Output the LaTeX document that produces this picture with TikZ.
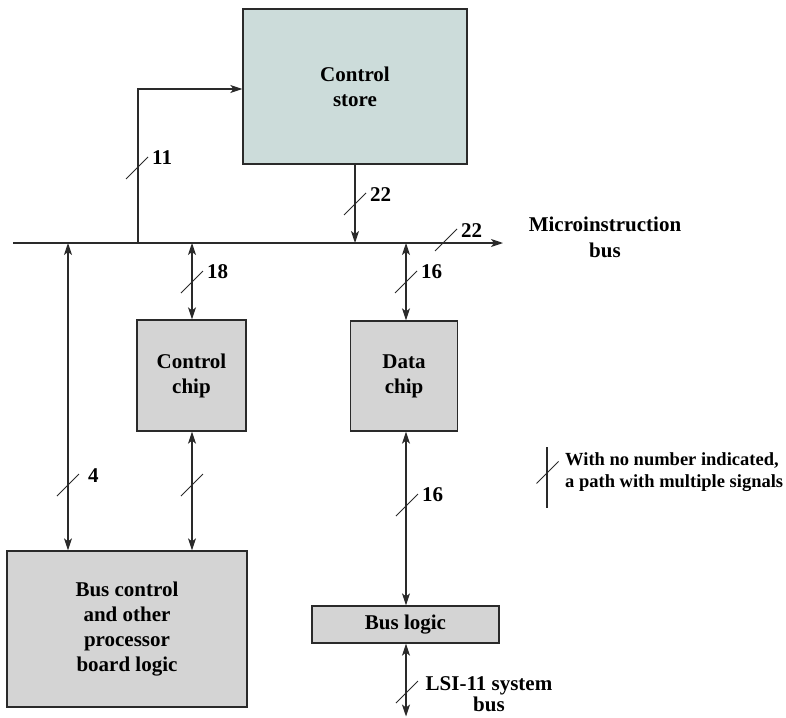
\documentclass[tikz,border=0pt]{standalone}
\usepackage{fontspec}
\setmainfont{Liberation Serif}
\usetikzlibrary{arrows.meta}
\definecolor{csfill}{HTML}{CCDCDA}
\definecolor{chipfill}{HTML}{D4D4D4}
\definecolor{ln}{HTML}{2A2A2A}
\begin{document}
\begin{tikzpicture}[x=1pt,y=-1pt,
  box/.style={draw=ln,line width=1.3pt,fill=chipfill,inner sep=0pt,align=center,
    font=\fontsize{21}{25}\selectfont\bfseries},
  conn/.style={draw=ln,line width=1.2pt},
  tip/.style={-{Stealth[length=12pt,width=8pt,inset=3pt]}},
  dtip/.style={{Stealth[length=12pt,width=8pt,inset=3pt]}-{Stealth[length=12pt,width=8pt,inset=3pt]}},
  lbl/.style={anchor=west,inner sep=0pt,font=\fontsize{21}{25}\selectfont\bfseries},
  slashmark/.style={draw=ln,line width=1pt}]
\useasboundingbox (0,0) rectangle (786,717);
% boxes
\node[box,fill=csfill,minimum width=224pt,minimum height=155pt] (cs) at (355,86.5) {Control\\store};
\node[box,minimum width=109pt,minimum height=111pt] (cc) at (191.5,375.5) {Control\\chip};
\node[box,minimum width=107pt,minimum height=110pt] (dc) at (404,376) {Data\\chip};
\node[box,minimum width=240pt,minimum height=156pt] (bc) at (127,629) {Bus control\\and other\\processor\\board logic};
\node[box,minimum width=187pt,minimum height=37pt] (bl) at (405.5,624.5) {Bus logic};
% bus
\coordinate (busL) at (13,243);
\coordinate (busR) at (503,243);
\draw[conn,tip] (busL) -- (busR);
% feedback to control store
\coordinate (fb) at (138,243);
\coordinate (fbtop) at (138,89);
\draw[conn,tip] (fb) -- (fbtop) -- (fbtop -| cs.west);
% control store to bus
\coordinate (csx) at (355,243);
\draw[conn,tip] (cs.south -| csx) -- (csx);
% bus <-> control chip
\coordinate (ccx) at (192,243);
\draw[conn,dtip] (ccx) -- (cc.north -| ccx);
% bus <-> data chip
\coordinate (dcx) at (406,243);
\draw[conn,dtip] (dcx) -- (dc.north -| dcx);
% bus <-> bus control
\coordinate (bcx) at (68,243);
\draw[conn,dtip] (bcx) -- (bc.north -| bcx);
% control chip <-> bus control
\draw[conn,dtip] (cc.south -| ccx) -- (bc.north -| ccx);
% data chip <-> bus logic
\draw[conn,dtip] (dc.south -| dcx) -- (bl.north -| dcx);
% bus logic <-> system bus
\coordinate (sysb) at (406,716.5);
\draw[conn,dtip] (bl.south -| sysb) -- (sysb);
% slashes
\foreach \p in {(137,168),(355,204),(446,240),(192,282),(406,282),(68,485),(192,485),(407,505),(407,692),(547.5,472.5)}
  \draw[slashmark] \p ++(-11,11) -- ++(22,-22);
% labels
\node[lbl] (l11) at (152,158) {11};
\node[lbl] (l22a) at (370,195) {22};
\node[lbl] (l22b) at (461,231) {22};
\node[lbl] (l18) at (207,272) {18};
\node[lbl] (l16a) at (421,272) {16};
\node[lbl] (l4) at (88,476) {4};
\node[lbl] (l16b) at (422,495) {16};
\node[inner sep=0pt,align=center,font=\fontsize{21}{26}\selectfont\bfseries] (mib) at (605,237) {Microinstruction\\bus};
\node[inner sep=0pt,align=center,font=\fontsize{21}{21}\selectfont\bfseries] (lsi) at (489,694) {LSI-11 system\\bus};
% legend
\coordinate (lgT) at (547,447);
\coordinate (lgB) at (547,508);
\draw[conn] (lgT) -- (lgB);
\node[anchor=west,inner sep=0pt,align=left,font=\fontsize{18.5}{22}\selectfont\bfseries] (leg) at (565,472) {With no number indicated,\\a path with multiple signals};
\end{tikzpicture}
\end{document}
